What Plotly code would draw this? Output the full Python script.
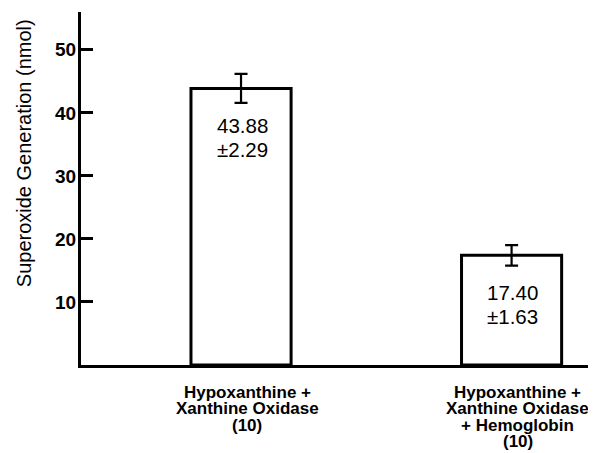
import plotly.graph_objects as go

# ---- data ----
categories = ["Hypoxanthine + Xanthine Oxidase", "Hypoxanthine + Xanthine Oxidase + Hemoglobin"]
cat_label_lines = [
    ["Hypoxanthine +", "Xanthine Oxidase", "(10)"],
    ["Hypoxanthine +", "Xanthine Oxidase", "+ Hemoglobin", "(10)"],
]
means = [43.88, 17.40]
sems = [2.29, 1.63]
value_text = [["43.88", "±2.29"], ["17.40", "±1.63"]]
y_ticks = [10, 20, 30, 40, 50]
y_title = "Superoxide Generation (nmol)"

# ---- layout constants (page body adds an 8px offset) ----
W, H = 588, 445
ML, MR, MT, MB = 73, 0, 4, 88
FONT = "Arial, Liberation Sans, sans-serif"
x_pos = [0, 1]

fig = go.Figure()
fig.add_trace(go.Bar(
    x=x_pos, y=means, width=0.37,
    marker=dict(color="white", line=dict(color="black", width=3)),
    error_y=dict(type="data", array=sems, visible=True, color="black",
                 thickness=2.2, width=6.5),
    showlegend=False, hoverinfo="skip",
))

annotations = []
# values inside bars
for xi, m, lines in zip(x_pos, means, value_text):
    for k, t in enumerate(lines):
        annotations.append(dict(
            x=xi, y=m, xref="x", yref="y", text=t, showarrow=False,
            xanchor="center", yanchor="middle", xshift=1,
            yshift=-37 - 24 * k,
            font=dict(family=FONT, size=20.5, color="black"),
        ))
# category labels, line by line
for xi, lines in zip(x_pos, cat_label_lines):
    for k, t in enumerate(lines):
        annotations.append(dict(
            x=xi, y=0, xref="x", yref="paper", text=t, showarrow=False,
            xanchor="center", yanchor="middle", xshift=6,
            yshift=-(27 + 16.6 * k),
            font=dict(family=FONT, size=17, color="black", weight="bold"),
        ))
# y axis title
annotations.append(dict(
    x=0, y=0.6, xref="paper", yref="paper", text=y_title, showarrow=False,
    xanchor="center", yanchor="middle", xshift=-(81 - 24), textangle=-90,
    font=dict(family=FONT, size=20, color="black"),
))

fig.update_layout(
    width=W, height=H,
    margin=dict(l=ML, r=MR, t=MT, b=MB, pad=0),
    paper_bgcolor="white", plot_bgcolor="white",
    annotations=annotations,
    xaxis=dict(range=[-0.5915, 1.312], showgrid=False, zeroline=False,
               showline=True, linecolor="black", linewidth=3,
               showticklabels=False, ticks=""),
    yaxis=dict(range=[0, 56], showgrid=False, zeroline=False,
               showline=True, linecolor="black", linewidth=3,
               tickvals=y_ticks, ticktext=[str(v) for v in y_ticks],
               ticks="inside", ticklen=12, tickwidth=3, tickcolor="black",
               ticklabelstandoff=-2,
               tickfont=dict(family=FONT, size=19, color="black", weight="bold")),
)

fig.write_html("out.html")
